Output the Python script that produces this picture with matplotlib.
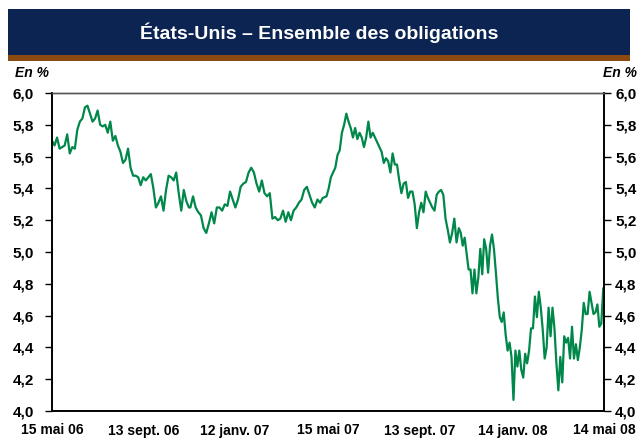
"""
États-Unis - Ensemble des obligations : rendement (en %) de mai 2006 à mai 2008.
"""

import matplotlib
matplotlib.use("Agg")
import matplotlib.pyplot as plt
from matplotlib.patches import Rectangle
import pandas as pd

# Couleurs du graphique
NAVY = "#0b2452"
BROWN = "#8a4a10"
GREEN = "#00874a"

plt.rcParams["font.family"] = ["Liberation Sans", "DejaVu Sans"]

# Rendements, par période (valeurs réparties uniformément dans chaque période)
periods = [
    ("2006-05-15", "2006-11-12"),
    ("2006-11-14", "2007-05-08"),
    ("2007-05-13", "2007-11-01"),
    ("2007-11-04", "2008-05-13"),
]

yield_p1 = [5.70, 5.67, 5.72, 5.65, 5.66, 5.67, 5.74, 5.62, 5.66, 5.65, 5.77, 5.82,
            5.84, 5.91, 5.92, 5.87, 5.82, 5.84, 5.89, 5.80, 5.79, 5.80, 5.75, 5.82,
            5.70, 5.73, 5.67, 5.63, 5.56, 5.58, 5.65, 5.53, 5.48, 5.48, 5.47, 5.42,
            5.47, 5.45, 5.47, 5.49, 5.40, 5.28, 5.31, 5.35, 5.26, 5.39, 5.48, 5.47,
            5.45, 5.50, 5.37, 5.26, 5.39, 5.32, 5.28]

yield_p2 = [5.28, 5.35, 5.28, 5.25, 5.23, 5.15, 5.12, 5.18, 5.25, 5.18, 5.28, 5.28,
            5.26, 5.30, 5.29, 5.38, 5.33, 5.28, 5.33, 5.41, 5.43, 5.44, 5.50, 5.53,
            5.50, 5.43, 5.38, 5.45, 5.37, 5.35, 5.37, 5.21, 5.22, 5.20, 5.21, 5.26,
            5.19, 5.25, 5.20, 5.26, 5.28, 5.31, 5.33, 5.39, 5.41, 5.36, 5.31, 5.28,
            5.33, 5.31, 5.34]

yield_p3 = [5.35, 5.40, 5.47, 5.50, 5.53, 5.61, 5.64, 5.75, 5.80, 5.87, 5.82, 5.78,
            5.72, 5.78, 5.71, 5.75, 5.72, 5.66, 5.72, 5.82, 5.72, 5.75, 5.72, 5.69,
            5.66, 5.63, 5.56, 5.59, 5.57, 5.50, 5.62, 5.55, 5.55, 5.45, 5.37, 5.43,
            5.44, 5.34, 5.38, 5.38, 5.30, 5.15, 5.25, 5.31, 5.25, 5.38, 5.34, 5.31,
            5.28, 5.26, 5.36, 5.38, 5.39, 5.36, 5.21, 5.14, 5.06, 5.12, 5.21, 5.06]

yield_p4 = [5.15, 5.12, 5.04, 5.09, 4.99, 4.89, 4.89, 4.74, 4.89, 4.74, 4.84, 5.02,
            4.86, 5.08, 5.02, 4.87, 5.04, 5.11, 5.02, 4.87, 4.71, 4.59, 4.56, 4.62,
            4.48, 4.38, 4.43, 4.34, 4.07, 4.38, 4.28, 4.38, 4.26, 4.21, 4.36, 4.30,
            4.38, 4.52, 4.52, 4.72, 4.59, 4.75, 4.65, 4.51, 4.33, 4.40, 4.65, 4.47,
            4.65, 4.52, 4.30, 4.13, 4.34, 4.18, 4.47, 4.43, 4.46, 4.33, 4.53, 4.33,
            4.42, 4.32, 4.40, 4.51, 4.68, 4.61, 4.61, 4.75, 4.68, 4.61, 4.62, 4.67,
            4.53, 4.55, 4.77]

tick_dates = ["2006-05-15", "2006-09-13", "2007-01-12", "2007-05-15",
              "2007-09-13", "2008-01-14", "2008-05-14"]
tick_labels = ["15 mai 06", "13 sept. 06", "12 janv. 07", "15 mai 07",
               "13 sept. 07", "14 janv. 08", "14 mai 08"]

y_ticks = [4.0, 4.2, 4.4, 4.6, 4.8, 5.0, 5.2, 5.4, 5.6, 5.8, 6.0]
y_labels = [f"{v:.1f}".replace(".", ",") for v in y_ticks]

# Construction de la série datée
dates = []
values = []
for (start, end), vals in zip(periods, [yield_p1, yield_p2, yield_p3, yield_p4]):
    dates.extend(pd.date_range(start, end, periods=len(vals)))
    values.extend(vals)
series = pd.Series(values, index=pd.DatetimeIndex(dates))

fig = plt.figure(figsize=(6.38, 4.41), dpi=100)

# Bandeau de titre
fig.patches.append(Rectangle((8 / 638, 1 - 55 / 441), 622 / 638, 46 / 441,
                             transform=fig.transFigure, facecolor=NAVY,
                             edgecolor="none"))
fig.patches.append(Rectangle((8 / 638, 1 - 61 / 441), 622 / 638, 6 / 441,
                             transform=fig.transFigure, facecolor=BROWN,
                             edgecolor="none"))
fig.text(0.5, 1 - 33 / 441, "États-Unis – Ensemble des obligations",
         color="white", fontsize=14, fontweight="bold", ha="center", va="center")

# Unités
fig.text(15 / 638, 1 - 73 / 441, "En %", fontsize=10, fontweight="bold",
         fontstyle="italic", ha="left", va="center")
fig.text(637 / 638, 1 - 73 / 441, "En %", fontsize=10, fontweight="bold",
         fontstyle="italic", ha="right", va="center")

ax = fig.add_axes([52 / 638, 1 - 411 / 441, 552 / 638, 318 / 441])
ax.plot(series.index, series.values, color=GREEN, linewidth=1.6)

ax.set_xlim(pd.Timestamp(tick_dates[0]), pd.Timestamp(tick_dates[-1]))
ax.set_ylim(4.0, 6.0)

# Axe de gauche
ax.set_yticks(y_ticks)
ax.set_yticklabels(y_labels, fontsize=11, fontweight="bold")
ax.tick_params(axis="y", direction="out", length=5, width=1, pad=8)

# Axe de droite (même échelle)
ax2 = ax.twinx()
ax2.set_ylim(ax.get_ylim())
ax2.set_yticks(y_ticks)
ax2.set_yticklabels(y_labels, fontsize=11, fontweight="bold")
ax2.tick_params(axis="y", direction="out", length=5, width=1, pad=3)

ax.set_xticks(pd.to_datetime(tick_dates))
ax.set_xticklabels(tick_labels, fontsize=10, fontweight="bold")
ax.tick_params(axis="x", length=0, pad=9)

for a in (ax, ax2):
    for side in ["left", "right", "bottom"]:
        a.spines[side].set_color("black")
        a.spines[side].set_linewidth(1.2)
    a.spines["top"].set_color("#555555")
    a.spines["top"].set_linewidth(1)

fig.savefig("out.png", dpi=100)
